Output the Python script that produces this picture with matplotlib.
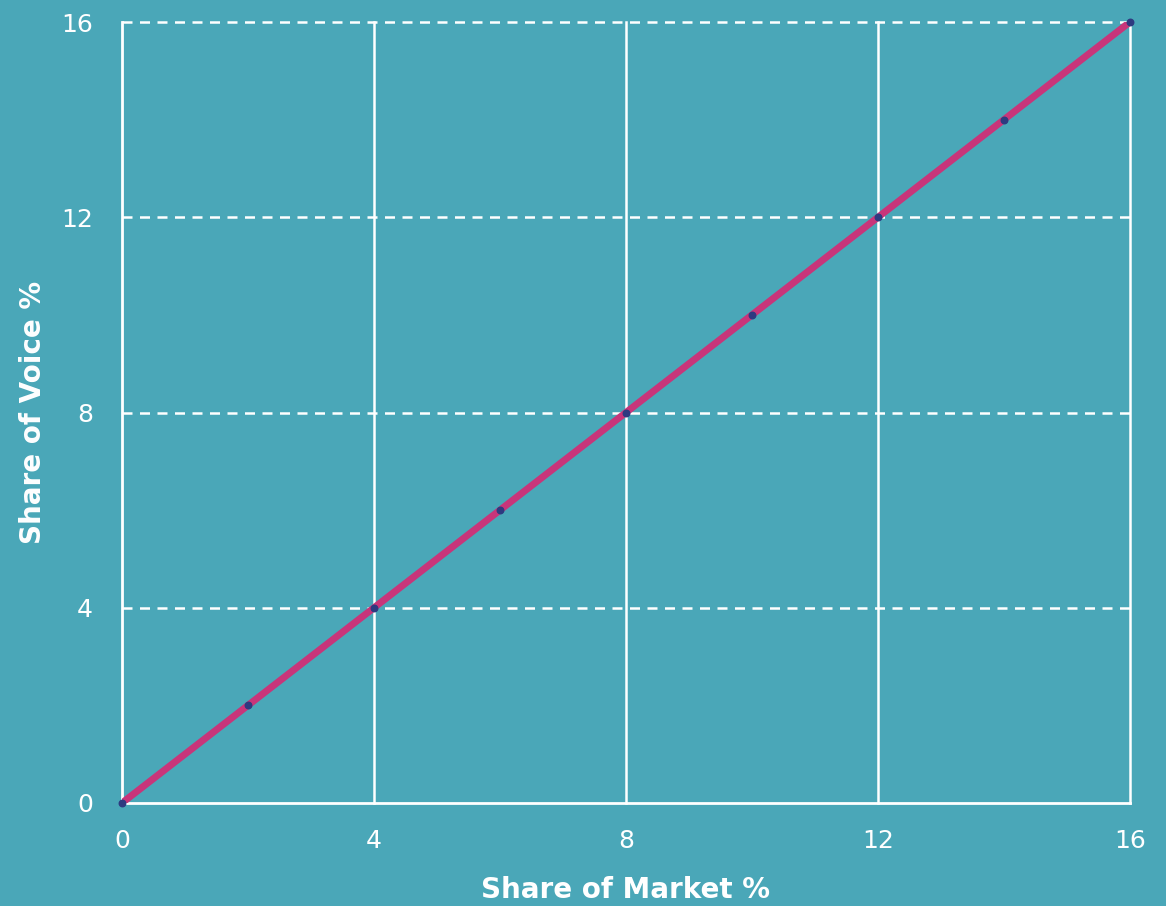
import numpy as np
import matplotlib.pyplot as plt

# share of market vs share of voice
share_market = [0, 2, 4, 6, 8, 10, 12, 14, 16]
share_voice = [0, 2, 4, 6, 8, 10, 12, 14, 16]
ticks = [0, 4, 8, 12, 16]

bg = '#4AA7B8'
plt.rcParams['font.family'] = ['DejaVu Sans']

fig = plt.figure(figsize=(11.66, 9.06), dpi=100, facecolor=bg)
ax = fig.add_axes([0.1046, 0.1137, 0.8645, 0.862])
ax.set_facecolor(bg)

for v in ticks[1:]:
    ax.axhline(v, color='white', lw=1.8, ls=(0, (4, 3)), zorder=1,
               clip_on=False)
for v in ticks[1:]:
    ax.axvline(v, color='white', lw=1.8, zorder=1, clip_on=False)

ax.plot(share_market, share_voice, color='#C8357A', lw=5, zorder=3,
        solid_capstyle='butt')
ax.scatter(share_market, share_voice, color='#2E3A80', s=22, zorder=4,
           clip_on=False)

ax.set_xlim(0, 16)
ax.set_ylim(0, 16)
ax.set_xticks(ticks)
ax.set_yticks(ticks)
ax.tick_params(length=0, labelsize=18, labelcolor='white')
ax.tick_params(axis='x', pad=19)
ax.tick_params(axis='y', pad=21)

for s in ['top', 'right']:
    ax.spines[s].set_visible(False)
for s in ['left', 'bottom']:
    ax.spines[s].set_color('white')
    ax.spines[s].set_linewidth(2)

ax.set_xlabel('Share of Market %', fontsize=20, fontweight='bold',
              color='white', labelpad=16)
ax.set_ylabel('Share of Voice %', fontsize=20, fontweight='bold',
              color='white', labelpad=10)

fig.savefig('out.png', dpi=100, facecolor=bg)
